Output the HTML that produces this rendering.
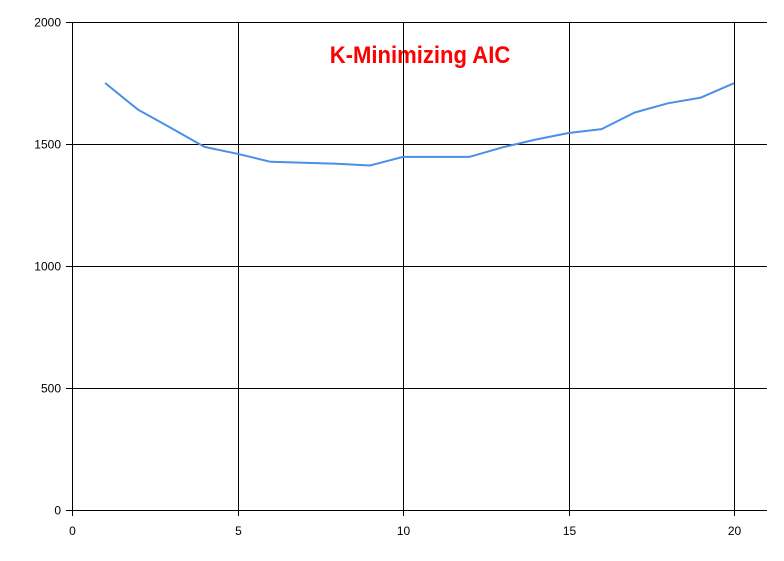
<!DOCTYPE html>
<html><head><meta charset="utf-8"><style>
html,body{margin:0;padding:0;background:#fff;width:784px;height:561px;overflow:hidden}
svg text{font-family:"Liberation Sans",Arial,sans-serif}
</style></head><body>
<svg id="chart" width="784" height="561" xmlns="http://www.w3.org/2000/svg">
<text x="420" y="63" text-anchor="middle" font-size="24" font-weight="bold" fill="#ff0000" transform="translate(420 0) scale(0.92 1) translate(-420 0)">K-Minimizing AIC</text>
<g id="grid"></g><g id="axes"></g><g id="series"></g>
</svg>
<script>
const xValues=[1,2,3,4,5,6,7,8,9,10,11,12,13,14,15,16,17,18,19,20];
const aicValues=[1750,1640,1565,1488,1460,1427,1423,1419,1412,1447,1447,1447,1486,1518,1545,1561,1629,1667,1690,1749];
const xTicks=[0,5,10,15,20];
const yTicks=[0,500,1000,1500,2000];
const X0=72,X1=734,Y0=510,Y1=22,RIGHT=767;
const sx=v=>X0+(v-0)/(20-0)*(X1-X0);
const sy=v=>Y0-(v-0)/(2000-0)*(Y0-Y1);
const NS="http://www.w3.org/2000/svg";
function mk(tag,attrs,parent){const e=document.createElementNS(NS,tag);for(const k in attrs)e.setAttribute(k,attrs[k]);parent.appendChild(e);return e;}
const grid=document.getElementById('grid'),axes=document.getElementById('axes'),series=document.getElementById('series');
yTicks.forEach(t=>{
  const y=Math.round(sy(t))+0.5;
  const l=mk('line',{x1:X0-6,x2:RIGHT,y1:y,y2:y,stroke:'#000','stroke-width':1},grid);
  
  
  const tx=mk('text',{x:X0-11,y:y+4,'text-anchor':'end','font-size':12,fill:'#000'},axes);
  tx.textContent=t;
  
  
});
xTicks.forEach(t=>{
  const x=Math.round(sx(t))+0.5;
  const l=mk('line',{x1:x,x2:x,y1:Y1,y2:Y0+6,stroke:'#000','stroke-width':1},grid);
  
  
  const tx=mk('text',{x:x,y:Y0+25,'text-anchor':'middle','font-size':12,fill:'#000'},axes);
  tx.textContent=t;
  
  
});
const pts=xValues.map((v,i)=>sx(v).toFixed(1)+','+sy(aicValues[i]).toFixed(1)).join(' ');
const pl=mk('polyline',{points:pts,fill:'none',stroke:'#4a8fe8','stroke-width':2,'stroke-linejoin':'round'},series);


</script>
</body></html>
